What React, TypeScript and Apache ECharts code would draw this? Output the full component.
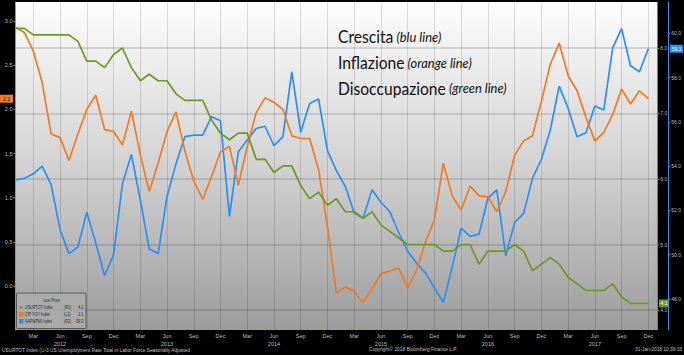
import React, { useEffect, useRef } from 'react';
import * as echarts from 'echarts';

const YEARS = ['2012', '2013', '2014', '2015', '2016', '2017'];
const MONTH_NAMES = ['Jan', 'Feb', 'Mar', 'Apr', 'May', 'Jun', 'Jul', 'Aug', 'Sep', 'Oct', 'Nov', 'Dec'];
const QUARTER_MONTHS = ['Mar', 'Jun', 'Sep', 'Dec'];
const CATEGORIES = [...YEARS.flatMap((y) => MONTH_NAMES.map((m) => `${m} ${y}`)), 'Jan 2018'];

// USURTOT Index (R1) - unemployment, green
const UNEMPLOYMENT = [
  8.3, 8.3, 8.2, 8.2, 8.2, 8.2, 8.2, 8.1, 7.8, 7.8, 7.7, 7.9,
  8.0, 7.7, 7.5, 7.6, 7.5, 7.5, 7.3, 7.2, 7.2, 7.2, 6.9, 6.7,
  6.6, 6.7, 6.7, 6.3, 6.3, 6.1, 6.2, 6.2, 5.9, 5.7, 5.8, 5.6,
  5.7, 5.5, 5.5, 5.4, 5.5, 5.3, 5.2, 5.1, 5.0, 5.0, 5.0, 5.0,
  4.9, 4.9, 5.0, 5.0, 4.7, 4.9, 4.9, 4.9, 5.0, 4.9, 4.6, 4.7,
  4.8, 4.7, 4.5, 4.4, 4.3, 4.3, 4.3, 4.4, 4.2, 4.1, 4.1, 4.1,
];

// CPI YOY Index (L1) - inflation, orange
const CPI_YOY = [
  2.93, 2.87, 2.66, 2.3, 1.72, 1.68, 1.42, 1.72, 2.0, 2.16, 1.77, 1.75,
  1.6, 1.98, 1.49, 1.07, 1.39, 1.75, 1.97, 1.53, 1.19, 0.98, 1.24, 1.52,
  1.58, 1.14, 1.58, 1.96, 2.13, 2.08, 2.0, 1.7, 1.67, 1.67, 1.32, 0.67,
  -0.08, -0.01, -0.06, -0.19, -0.03, 0.14, 0.17, 0.2, -0.02, 0.18, 0.5, 0.75,
  1.39, 1.02, 0.86, 1.13, 1.02, 1.01, 0.84, 1.07, 1.48, 1.64, 1.7, 2.09,
  2.51, 2.75, 2.38, 2.21, 1.91, 1.64, 1.74, 1.94, 2.23, 2.06, 2.21, 2.12,
];

// NAPMPMI Index (R2) - growth, blue
const PMI = [
  53.38, 53.45, 53.65, 54.0, 53.15, 51.13, 50.05, 50.35, 51.92, 50.53, 49.05, 50.0,
  53.2, 54.53, 52.48, 50.26, 50.05, 52.63, 54.1, 55.33, 55.4, 55.4, 56.23, 56.05,
  51.73, 54.65, 55.18, 55.7, 55.8, 54.92, 55.33, 58.26, 55.53, 56.83, 57.03, 54.7,
  53.8, 53.08, 51.88, 51.65, 52.93, 52.37, 51.94, 50.98, 50.15, 49.62, 49.17, 48.5,
  47.85, 49.45, 51.2, 50.83, 50.93, 52.55, 52.93, 49.95, 51.46, 51.85, 53.45, 54.31,
  55.63, 57.61, 56.61, 55.33, 55.51, 56.71, 56.53, 59.34, 60.21, 58.53, 58.26, 59.3,
];

const LEFT_TICKS = [0, 0.5, 1, 1.5, 2, 2.5, 3];
const R1_TICKS = [4, 5, 6, 7, 8];
const R2_TICKS = [48, 50, 52, 54, 56, 58, 60];

const ANNOTATIONS = [
  ['Crescita', '(blu line)'],
  ['Inflazione', '(orange line)'],
  ['Disoccupazione', '(green line)'],
];
const LEGEND_ROWS = [
  ['USURTOT Index', '(R1)'],
  ['CPI YOY Index', '(L1)'],
  ['NAPMPMI Index', '(R2)'],
];

const GREEN = '#6b9a23';
const ORANGE = '#f27a1f';
const BLUE = '#2a8ff6';
const LABEL_GRAY = '#bdbdbd';
const SMALL_FONT = '"Liberation Sans", Arial, sans-serif';

const isQuarter = (value: string) => QUARTER_MONTHS.includes(value.split(' ')[0]);

export default function App() {
  const ref = useRef<HTMLDivElement>(null);

  useEffect(() => {
    if (!ref.current) return;
    const chart = echarts.init(ref.current, undefined, { renderer: 'svg' });

    const lastValues = [
      UNEMPLOYMENT[UNEMPLOYMENT.length - 1],
      CPI_YOY[CPI_YOY.length - 1],
      PMI[PMI.length - 1],
    ];
    const rowY = [307.3, 314.3, 321.3];
    const legendText = (x: number, y: number, text: string, align = 'left') => ({
      type: 'text', x, y, scaleX: 0.74,
      style: { x: 0, y: 0, text, fontSize: 5, fontFamily: SMALL_FONT, fill: '#2a2a2a', align, verticalAlign: 'middle' },
    });

    const legendChildren: any[] = [
      { type: 'rect', shape: { x: 16.5, y: 293, width: 69.5, height: 35.5, r: 1 }, style: { fill: 'rgba(172,172,172,0.85)', stroke: '#585858', lineWidth: 1 } },
      legendText(51.5, 300, 'Last Price', 'center'),
      { type: 'circle', shape: { cx: 21.3, cy: rowY[0], r: 1.3 }, style: { fill: GREEN } },
      { type: 'rect', shape: { x: 19, y: rowY[1] - 2.3, width: 4.5, height: 4.6 }, style: { fill: ORANGE } },
      { type: 'rect', shape: { x: 19, y: rowY[2] - 2.3, width: 4.5, height: 4.6 }, style: { fill: BLUE } },
    ];
    LEGEND_ROWS.forEach(([name, axis], i) => {
      legendChildren.push(legendText(25, rowY[i], name));
      legendChildren.push(legendText(64, rowY[i], axis));
      legendChildren.push(legendText(83.3, rowY[i], lastValues[i].toFixed(1), 'right'));
    });

    const annotationY = [36.5, 62.5, 88];
    const annotationGraphics = ANNOTATIONS.map(([main, note], i) => ({
      type: 'text', x: 338, y: annotationY[i], scaleX: 0.92,
      style: {
        text: `{a|${main}} {b|${note}}`, verticalAlign: 'middle',
        rich: {
          a: { fontSize: 17, fontFamily: 'Lato', fill: '#111' },
          b: { fontSize: 14, fontStyle: 'italic', fontFamily: 'Lato', fill: '#111' },
        },
      },
    }));

    const baseGraphics: any[] = [
      { type: 'group', children: legendChildren },
      ...annotationGraphics,
      { type: 'text', style: { x: 2, y: 350, text: 'USURTOT Index (U-3 US Unemployment Rate Total in Labor Force Seasonally Adjusted', fontSize: 4.8, fontFamily: SMALL_FONT, fill: '#c0c0c0', verticalAlign: 'middle' } },
      { type: 'text', style: { x: 369, y: 349.5, text: 'Copyright\u00a9 2018 Bloomberg Finance L.P.', fontSize: 4.8, fontFamily: SMALL_FONT, fill: '#c0c0c0', verticalAlign: 'middle' } },
      { type: 'text', style: { x: 682, y: 349.5, text: '31-Jan-2018 10:39:33', fontSize: 4.8, fontFamily: SMALL_FONT, fill: '#c0c0c0', align: 'right', verticalAlign: 'middle' } },
    ];

    const option: any = {
      animation: false,
      backgroundColor: '#000',
      grid: {
        left: 15.5, right: 26, top: 2, bottom: 25,
        show: true, borderWidth: 0,
        backgroundColor: new echarts.graphic.LinearGradient(0, 0, 0, 1, [
          { offset: 0, color: '#fdfdfd' },
          { offset: 0.5, color: '#d2d2d2' },
          { offset: 1, color: '#9c9c9c' },
        ]),
      },
      xAxis: {
        type: 'category',
        data: CATEGORIES,
        boundaryGap: false,
        axisLine: { show: false },
        axisTick: { show: false },
        axisLabel: {
          interval: (_i: number, v: string) => isQuarter(v),
          formatter: (v: string) => {
            const [m, y] = v.split(' ');
            return m === 'Jun' ? `${m}\n${y}` : m;
          },
          color: LABEL_GRAY, fontSize: 5.5, fontFamily: SMALL_FONT, margin: 2, lineHeight: 8,
        },
        splitLine: {
          show: true,
          interval: (_i: number, v: string) => isQuarter(v),
          lineStyle: { color: 'rgba(0,0,0,0.13)', width: 1 },
        },
      },
      yAxis: [
        {
          type: 'value', position: 'left', min: -0.498, max: 3.215,
          axisLine: { show: true, lineStyle: { color: ORANGE, width: 1 } },
          axisTick: { show: true, customValues: LEFT_TICKS, length: 2, lineStyle: { color: ORANGE } },
          axisLabel: { customValues: LEFT_TICKS, formatter: (v: number) => v.toFixed(1), color: LABEL_GRAY, fontSize: 5.5, fontFamily: SMALL_FONT, margin: 3 },
          splitLine: { show: false },
        },
        {
          type: 'value', position: 'right', offset: 0, min: 3.695, max: 8.702,
          axisLine: { show: true, lineStyle: { color: GREEN, width: 1 } },
          axisTick: { show: true, customValues: R1_TICKS, length: 2, lineStyle: { color: GREEN } },
          axisLabel: { customValues: R1_TICKS, formatter: (v: number) => v.toFixed(1), color: LABEL_GRAY, fontSize: 5, fontFamily: SMALL_FONT, margin: 3 },
          splitLine: { show: true, customValues: R1_TICKS, lineStyle: { color: 'rgba(0,0,0,0.17)', width: 1.5 } },
        },
        {
          type: 'value', position: 'right', offset: 11, min: 46.6, max: 61.41,
          axisLine: { show: true, lineStyle: { color: BLUE, width: 1 } },
          axisTick: { show: true, customValues: R2_TICKS, length: 2, lineStyle: { color: BLUE } },
          axisLabel: { customValues: R2_TICKS, formatter: (v: number) => v.toFixed(1), color: LABEL_GRAY, fontSize: 5, fontFamily: SMALL_FONT, margin: 3 },
          splitLine: { show: false },
        },
      ],
      series: [
        { name: 'NAPMPMI Index', type: 'line', yAxisIndex: 2, data: PMI, symbol: 'none', lineStyle: { color: BLUE, width: 1.7 }, itemStyle: { color: BLUE } },
        { name: 'CPI YOY Index', type: 'line', yAxisIndex: 0, data: CPI_YOY, symbol: 'none', lineStyle: { color: ORANGE, width: 1.7 }, itemStyle: { color: ORANGE } },
        { name: 'USURTOT Index', type: 'line', yAxisIndex: 1, data: UNEMPLOYMENT, symbol: 'none', lineStyle: { color: GREEN, width: 1.7 }, itemStyle: { color: GREEN } },
      ],
    };

    chart.setOption(option);

    const [lastR1, lastL, lastR2] = lastValues;
    const yL = chart.convertToPixel({ yAxisIndex: 0 } as any, lastL) as number;
    const yR1 = chart.convertToPixel({ yAxisIndex: 1 } as any, lastR1) as number;
    const yR2 = chart.convertToPixel({ yAxisIndex: 2 } as any, lastR2) as number;

    const boxes: any[] = [
      { type: 'rect', shape: { x: 0, y: yL - 4, width: 13, height: 8 }, style: { fill: ORANGE } },
      { type: 'text', style: { x: 6.5, y: yL, text: lastL.toFixed(1), fontSize: 5.5, fontFamily: SMALL_FONT, fill: '#222', align: 'center', verticalAlign: 'middle' } },
      { type: 'rect', shape: { x: 659, y: yR1 - 4, width: 10, height: 8 }, style: { fill: GREEN } },
      { type: 'text', style: { x: 664, y: yR1, text: lastR1.toFixed(1), fontSize: 5.5, fontFamily: SMALL_FONT, fill: '#fff', align: 'center', verticalAlign: 'middle' } },
      { type: 'rect', shape: { x: 670, y: yR2 - 4, width: 13, height: 8 }, style: { fill: BLUE } },
      { type: 'text', style: { x: 676.5, y: yR2, text: lastR2.toFixed(1), fontSize: 5, fontFamily: SMALL_FONT, fill: '#fff', align: 'center', verticalAlign: 'middle' } },
    ];

    chart.setOption({ graphic: [...baseGraphics, ...boxes] });

    return () => chart.dispose();
  }, []);

  return (
    <div
      ref={ref}
      style={{ position: 'absolute', left: 0, top: 0, width: 684, height: 355, background: '#000' }}
    />
  );
}
